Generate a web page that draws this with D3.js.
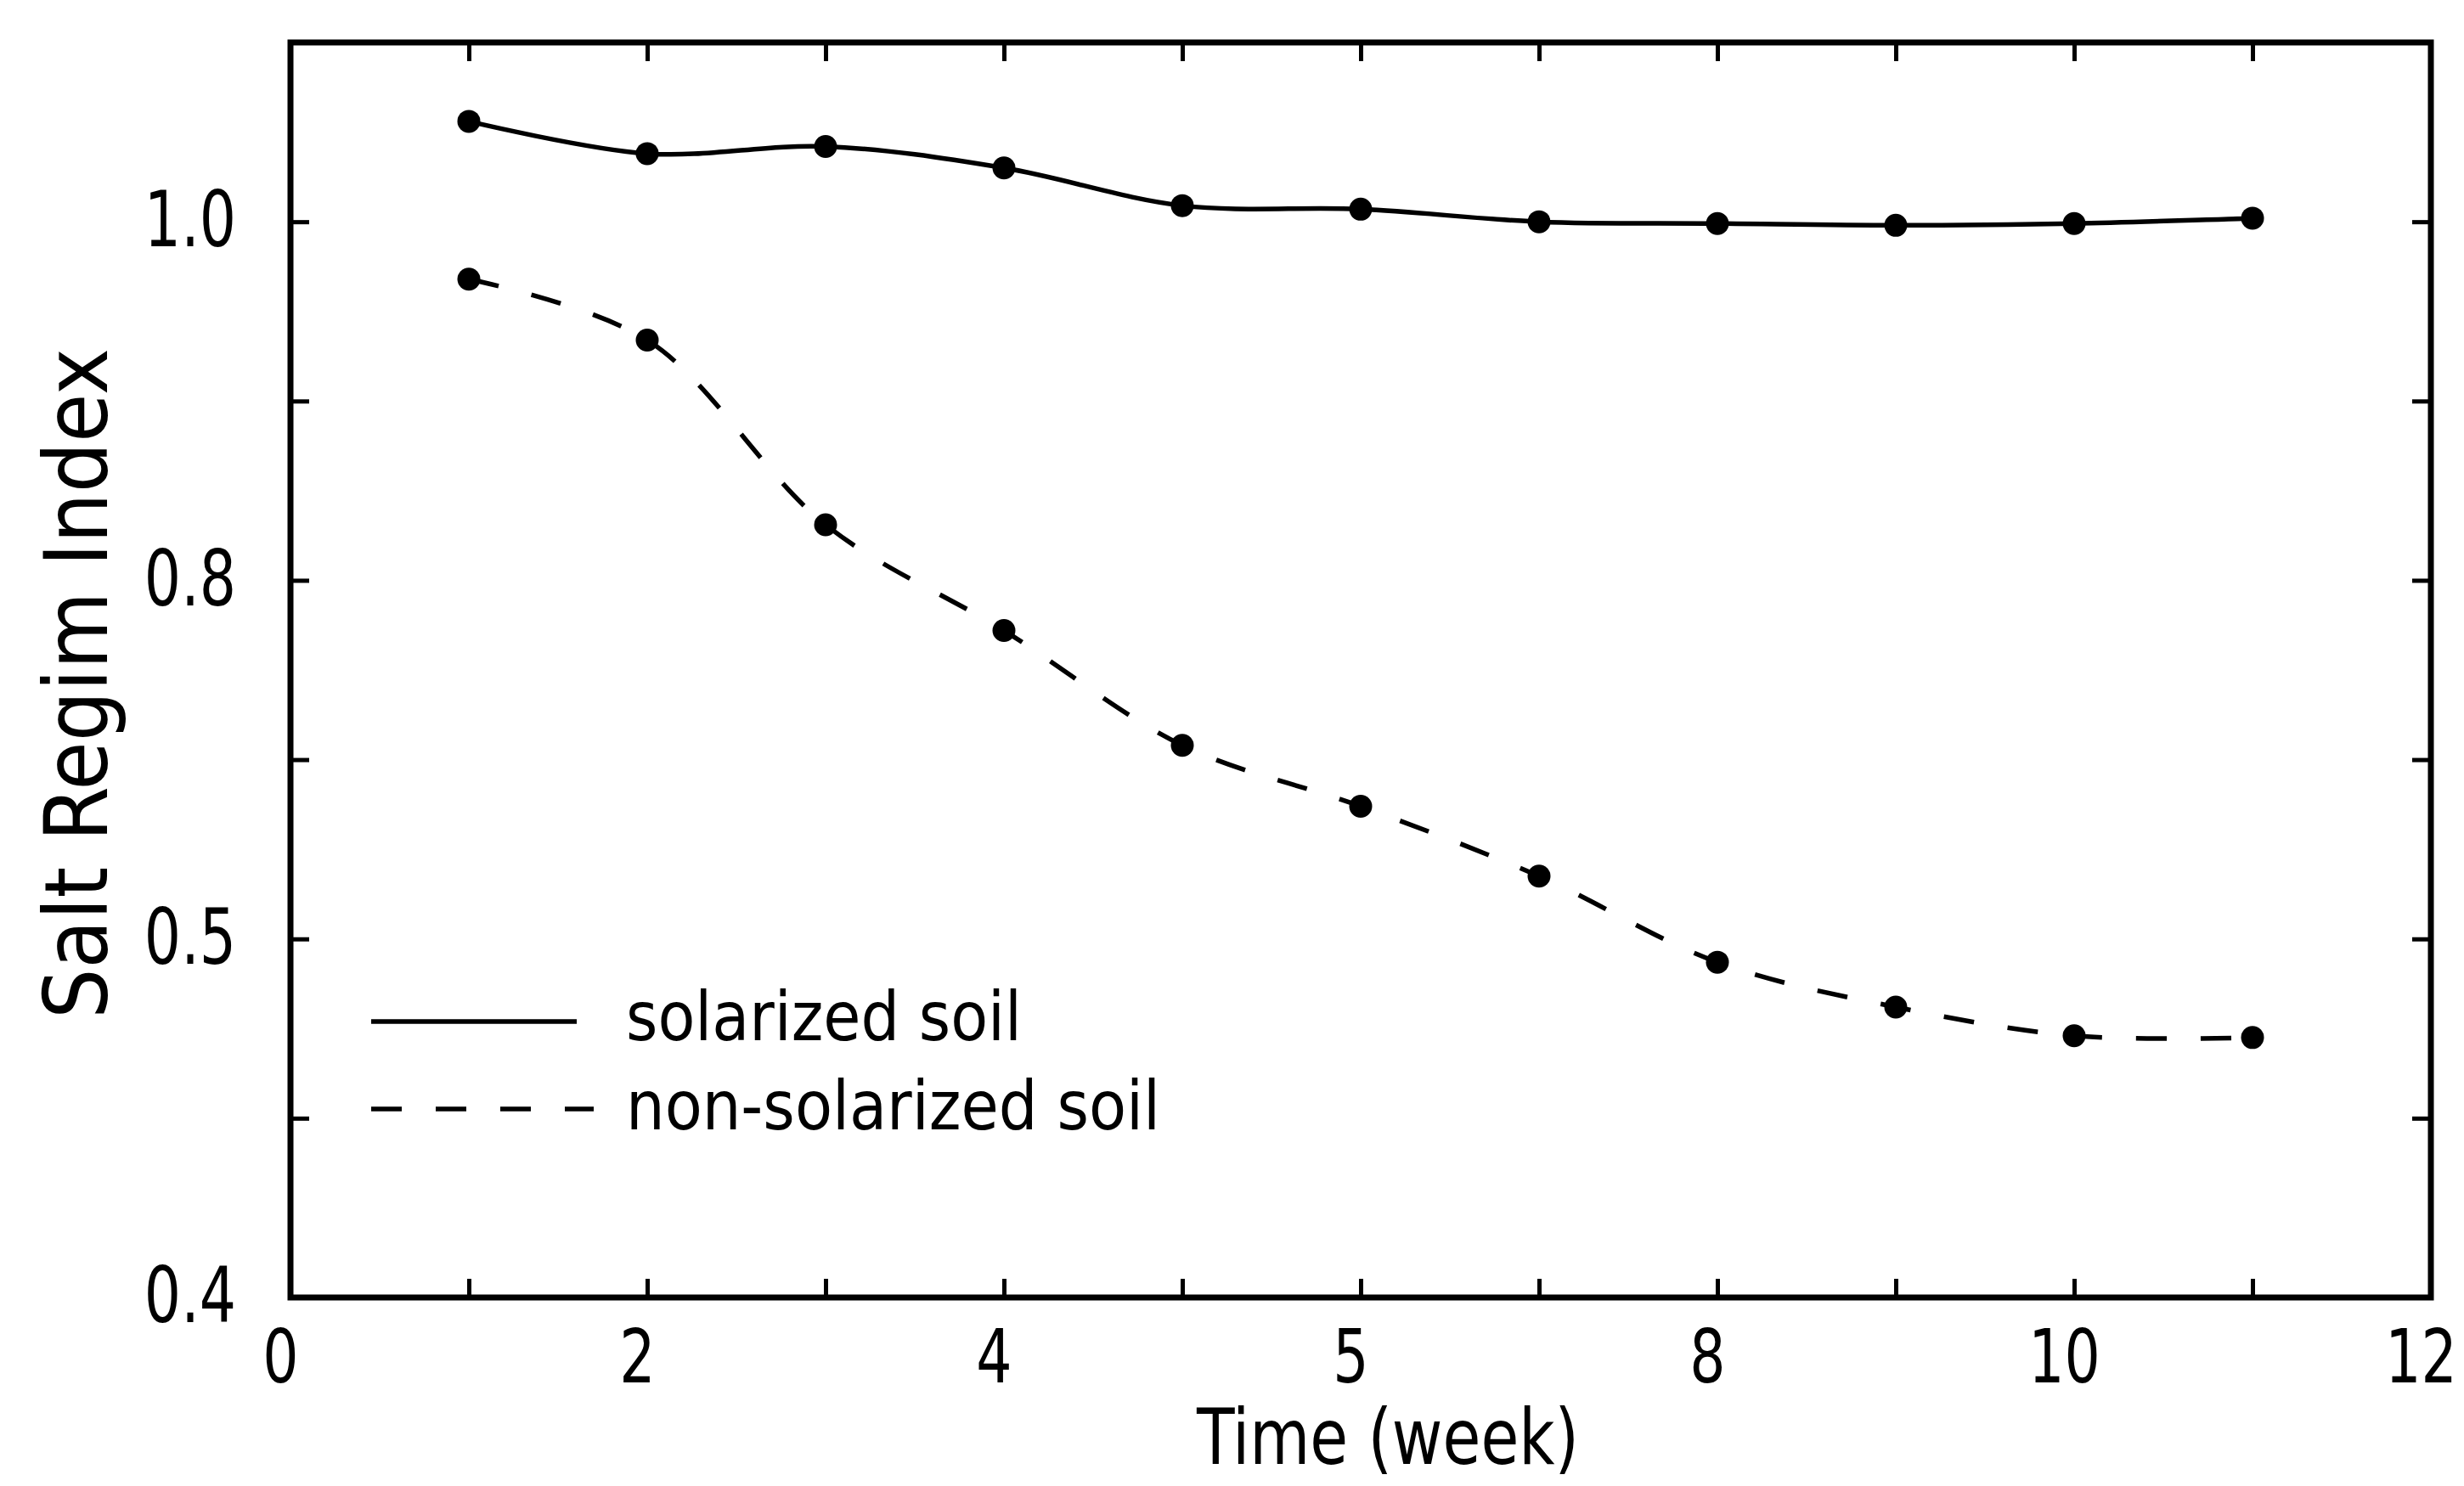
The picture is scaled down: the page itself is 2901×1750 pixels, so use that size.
<!DOCTYPE html>
<html>
<head>
<meta charset="utf-8">
<script src="https://cdn.jsdelivr.net/npm/d3@7"></script>
<style>
  html, body { margin: 0; padding: 0; background: #fff; }
  svg { display: block; }
  text { font-family: "Liberation Sans Narrow", "DejaVu Sans Condensed", "Open Sans", sans-serif; font-stretch: condensed; fill: #000; }
</style>
</head>
<body>
<div id="chart"></div>
<script>
  // weeks after start
  const weeks = [1, 2, 3, 4, 5, 6, 7, 8, 9, 10, 11];
  const solarized = [1.056, 1.038, 1.042, 1.030, 1.009, 1.007, 1.000, 0.999, 0.998, 0.999, 1.002];
  const nonSolarized = [0.968, 0.934, 0.831, 0.772, 0.708, 0.674, 0.635, 0.587, 0.562, 0.546, 0.545];

  // tick labels as printed on the original figure
  const xTickValues = [0, 2, 4, 6, 8, 10, 12];
  const xTickLabels = ["0", "2", "4", "5", "8", "10", "12"];
  const yTickValues = [0.4, 0.6, 0.8, 1.0];
  const yTickLabels = ["0.4", "0.5", "0.8", "1.0"];

  const seriesNames = ["solarized soil", "non-solarized soil"];

  const width = 2901;
  const height = 1750;
  const margin = { top: 50, right: 39, bottom: 222, left: 342 };
  const tickLen = 22;
  const dash = "36 40";
  const squeeze = 0.84; // reference digits are narrow

  const svg = d3.select("#chart")
    .append("svg")
    .attr("width", width)
    .attr("height", height)
    .attr("viewBox", `0 0 ${width} ${height}`);

  svg.append("rect").attr("width", width).attr("height", height).attr("fill", "#fff");

  const x = d3.scaleLinear().domain([0, 12]).range([margin.left, width - margin.right]);
  const y = d3.scaleLinear().domain([0.4, 1.1]).range([height - margin.bottom, margin.top]);

  const xLabel = new Map(xTickValues.map((v, i) => [v, xTickLabels[i]]));
  const yLabel = new Map(yTickValues.map((v, i) => [Math.round(v * 10), yTickLabels[i]]));

  const xTicks = d3.range(0, 13);
  const yTicks = d3.range(4, 12).map((d) => d / 10);

  // bottom axis: inward ticks, labels outside
  const gx = svg.append("g")
    .attr("transform", `translate(0,${y(0.4)})`)
    .call(d3.axisBottom(x).tickValues(xTicks).tickSize(-tickLen).tickPadding(38)
      .tickFormat((d) => xLabel.get(d) ?? ""));

  svg.append("g")
    .attr("transform", `translate(0,${y(1.1)})`)
    .call(d3.axisTop(x).tickValues(xTicks).tickSize(-tickLen).tickFormat(""));

  const gy = svg.append("g")
    .attr("transform", `translate(${x(0)},0)`)
    .call(d3.axisLeft(y).tickValues(yTicks).tickSize(-tickLen).tickPadding(64)
      .tickFormat((d) => yLabel.get(Math.round(d * 10)) ?? ""));

  svg.append("g")
    .attr("transform", `translate(${x(12)},0)`)
    .call(d3.axisRight(y).tickValues(yTicks).tickSize(-tickLen).tickFormat(""));

  svg.selectAll(".domain").remove();
  svg.selectAll(".tick line").attr("stroke", "#000").attr("stroke-width", 5);
  gx.selectAll("text")
    .attr("font-size", 88)
    .attr("fill", "#000")
    .attr("x", -12 / squeeze)
    .attr("transform", `scale(${squeeze},1)`);
  gy.selectAll("text")
    .attr("font-size", 90)
    .attr("fill", "#000")
    .attr("x", -64 / squeeze)
    .attr("transform", `scale(${squeeze},1)`);

  // frame
  svg.append("rect")
    .attr("x", x(0))
    .attr("y", y(1.1))
    .attr("width", x(12) - x(0))
    .attr("height", y(0.4) - y(1.1))
    .attr("fill", "none")
    .attr("stroke", "#000")
    .attr("stroke-width", 7);

  const line = d3.line()
    .x((d) => x(d[0]))
    .y((d) => y(d[1]))
    .curve(d3.curveCatmullRom.alpha(0.5));

  const series = [
    { name: seriesNames[0], values: solarized, dash: null },
    { name: seriesNames[1], values: nonSolarized, dash: dash },
  ];

  series.forEach((s) => {
    const pts = weeks.map((w, i) => [w, s.values[i]]);
    svg.append("path")
      .datum(pts)
      .attr("d", line)
      .attr("fill", "none")
      .attr("stroke", "#000")
      .attr("stroke-width", 5.5)
      .attr("stroke-dasharray", s.dash);

    svg.append("g")
      .selectAll("circle")
      .data(pts)
      .join("circle")
      .attr("cx", (d) => x(d[0]))
      .attr("cy", (d) => y(d[1]))
      .attr("r", 13.5)
      .attr("fill", "#000");
  });

  // legend
  const legendRows = [
    { y: 1203, x2: 679, dash: null, textY: 1225, textW: 466 },
    { y: 1306, x2: 699, dash: dash, textY: 1330, textW: 629 },
  ];
  legendRows.forEach((r, i) => {
    svg.append("line")
      .attr("x1", 437).attr("x2", r.x2)
      .attr("y1", r.y).attr("y2", r.y)
      .attr("stroke", "#000")
      .attr("stroke-width", 5.5)
      .attr("stroke-dasharray", r.dash);
    svg.append("text")
      .attr("x", 737)
      .attr("y", r.textY)
      .attr("font-size", 80)
      .attr("textLength", r.textW)
      .attr("lengthAdjust", "spacingAndGlyphs")
      .text(seriesNames[i]);
  });

  // axis titles
  svg.append("text")
    .attr("x", 1634)
    .attr("y", 1724)
    .attr("text-anchor", "middle")
    .attr("font-size", 90)
    .attr("textLength", 450)
    .attr("lengthAdjust", "spacingAndGlyphs")
    .text("Time (week)");

  svg.append("text")
    .attr("transform", "translate(126,805) rotate(-90)")
    .attr("text-anchor", "middle")
    .attr("font-size", 104)
    .attr("textLength", 790)
    .attr("lengthAdjust", "spacingAndGlyphs")
    .text("Salt Regim Index");
</script>
</body>
</html>
